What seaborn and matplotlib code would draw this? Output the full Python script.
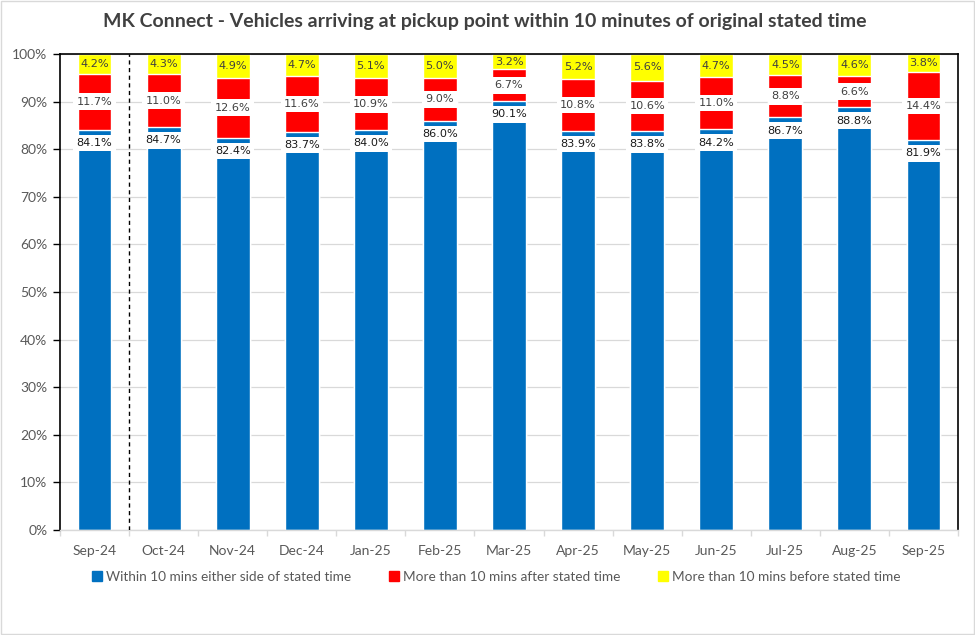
import numpy as np
import pandas as pd
import matplotlib
matplotlib.use("Agg")
import matplotlib.pyplot as plt
import matplotlib.patches as mpatches
import seaborn as sns

months = ["Sep-24", "Oct-24", "Nov-24", "Dec-24", "Jan-25", "Feb-25", "Mar-25",
          "Apr-25", "May-25", "Jun-25", "Jul-25", "Aug-25", "Sep-25"]
within = [84.1, 84.7, 82.4, 83.7, 84.0, 86.0, 90.1, 83.9, 83.8, 84.2, 86.7, 88.8, 81.9]
after = [11.7, 11.0, 12.6, 11.6, 10.9, 9.0, 6.7, 10.8, 10.6, 11.0, 8.8, 6.6, 14.4]
before = [4.2, 4.3, 4.9, 4.7, 5.1, 5.0, 3.2, 5.2, 5.6, 4.7, 4.5, 4.6, 3.8]

series_names = ["Within 10 mins either side of stated time",
                "More than 10 mins after stated time",
                "More than 10 mins before stated time"]
colors = ["#0070C0", "#FF0000", "#FFFF00"]

sns.set_theme(style="white")
plt.rcParams['font.family'] = ['Lato', 'DejaVu Sans']

df = pd.DataFrame({"month": months, "within": within, "after": after, "before": before})
df["c1"] = df["within"]
df["c2"] = df["within"] + df["after"]
df["c3"] = df["c2"] + df["before"]

fig = plt.figure(figsize=(9.75, 6.35), dpi=100)
fig.patch.set_facecolor("white")
ax = fig.add_axes([60/975, 1-530/635, (958-60)/975, (530-54)/635])

bw = 0.49
sns.barplot(data=df, x="month", y="c3", color=colors[2], width=bw, saturation=1, ax=ax, zorder=2)
sns.barplot(data=df, x="month", y="c2", color=colors[1], width=bw, saturation=1, ax=ax, zorder=2)
sns.barplot(data=df, x="month", y="c1", color=colors[0], width=bw, saturation=1, ax=ax, zorder=2)

ax.set_ylim(0, 100)
ax.set_xlim(-0.5, len(months) - 0.5)
ax.set_yticks(np.arange(0, 101, 10))
ax.set_yticklabels([f"{v}%" for v in range(0, 101, 10)])
ax.yaxis.grid(True, color="#d9d9d9", lw=0.9, zorder=0)
ax.set_axisbelow(True)
ax.set_xlabel("")
ax.set_ylabel("")

for s in ["left", "top", "right"]:
    ax.spines[s].set_color("black")
    ax.spines[s].set_linewidth(1.2)
ax.spines["bottom"].set_color("#d9d9d9")
ax.spines["bottom"].set_linewidth(1.0)

ax.tick_params(axis="y", which="major", left=True, length=5, width=1, color="black",
               labelsize=10, labelcolor="#595959", pad=4)
ax.tick_params(axis="x", which="major", length=0, labelsize=10, labelcolor="#595959", pad=11)
ax.set_xticks(np.arange(-0.5, len(months), 1), minor=True)
ax.tick_params(axis="x", which="minor", bottom=True, length=4, color="#d9d9d9", width=1)

ax.axvline(0.5, color="black", lw=1, ls=(0, (3, 2.5)), zorder=3)

lab_font = dict(family="DejaVu Sans", fontsize=8.1, ha="center", va="center", zorder=5)
box = dict(boxstyle="square,pad=0.3", fc="white", ec="none")
for i in range(len(months)):
    w, a, b = within[i], after[i], before[i]
    ax.text(i, w - 2.8, f"{w:.1f}%", color="#1a1a1a", bbox=box, **lab_font)
    ax.text(i, w + a / 2, f"{a:.1f}%", color="#404040", bbox=box, **lab_font)
    ax.text(i, w + a + b / 2, f"{b:.1f}%", color="#404040", **lab_font)

fig.text(0.497, 1-22/635, "MK Connect - Vehicles arriving at pickup point within 10 minutes of original stated time",
         ha="center", va="center", fontsize=14, fontweight="bold", color="#404040")

handles = [mpatches.Patch(color=c, label=n) for c, n in zip(colors, series_names)]
fig.legend(handles=handles, loc="center", bbox_to_anchor=(0.509, 1-577/635), ncol=3,
           frameon=False, fontsize=9.8, labelcolor="#595959", handlelength=0.75,
           handleheight=0.75, handletextpad=0.3, columnspacing=2.75)

fig.patches.append(mpatches.Rectangle((0.001, 0.001), 0.998, 0.998, transform=fig.transFigure,
                                      fill=False, ec="#d9d9d9", lw=1))

fig.savefig("out.png", dpi=100)
